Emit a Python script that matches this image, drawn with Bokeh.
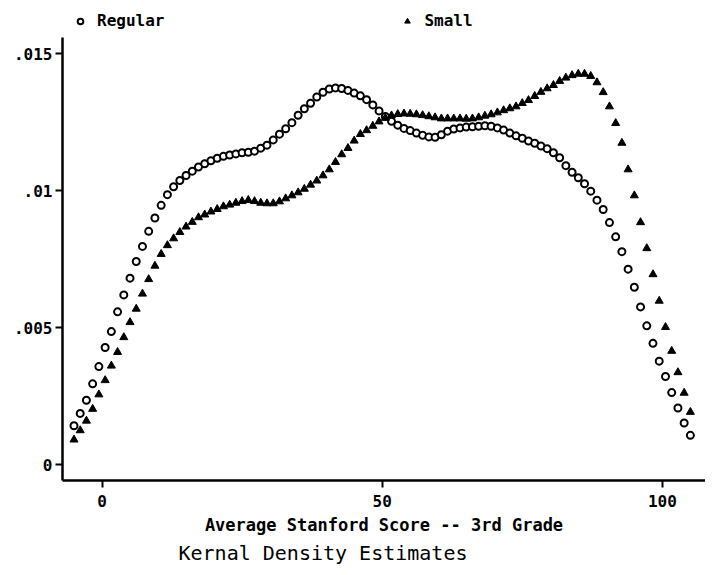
from bokeh.plotting import figure
from bokeh.models import Range1d, FixedTicker, Legend, LegendItem, Title
from bokeh.embed import file_html
from bokeh.resources import INLINE

# Evaluation grid (Average Stanford Score)
score = [-5.0, -3.89, -2.78, -1.67, -0.56, 0.56, 1.67, 2.78, 3.89, 5.0,
         6.11, 7.22, 8.33, 9.44, 10.56, 11.67, 12.78, 13.89, 15.0, 16.11,
         17.22, 18.33, 19.44, 20.56, 21.67, 22.78, 23.89, 25.0, 26.11, 27.22,
         28.33, 29.44, 30.56, 31.67, 32.78, 33.89, 35.0, 36.11, 37.22, 38.33,
         39.44, 40.56, 41.67, 42.78, 43.89, 45.0, 46.11, 47.22, 48.33, 49.44,
         50.56, 51.67, 52.78, 53.89, 55.0, 56.11, 57.22, 58.33, 59.44, 60.56,
         61.67, 62.78, 63.89, 65.0, 66.11, 67.22, 68.33, 69.44, 70.56, 71.67,
         72.78, 73.89, 75.0, 76.11, 77.22, 78.33, 79.44, 80.56, 81.67, 82.78,
         83.89, 85.0, 86.11, 87.22, 88.33, 89.44, 90.56, 91.67, 92.78, 93.89,
         95.0, 96.11, 97.22, 98.33, 99.44, 100.56, 101.67, 102.78, 103.89, 105.0]

# Kernel density, regular-size classes
regular = [.00142, .00187, .00235, .00295, .00358, .00428, .00486, .00558, .00620, .00681,
           .00742, .00797, .00852, .00901, .00947, .00986, .01015, .01038, .01056, .01072,
           .01087, .01099, .01110, .01119, .01126, .01131, .01135, .01139, .01141, .01145,
           .01156, .01167, .01186, .01207, .01227, .01249, .01276, .01300, .01320, .01343,
           .01360, .01372, .01376, .01374, .01367, .01357, .01347, .01333, .01314, .01292,
           .01272, .01254, .01240, .01228, .01220, .01211, .01203, .01197, .01196, .01205,
           .01218, .01226, .01230, .01233, .01234, .01236, .01238, .01236, .01230, .01222,
           .01211, .01201, .01192, .01182, .01174, .01164, .01154, .01139, .01121, .01092,
           .01068, .01048, .01026, .00999, .00966, .00932, .00884, .00832, .00778, .00714,
           .00648, .00576, .00507, .00443, .00378, .00322, .00263, .00207, .00152, .00107]

# Kernel density, small classes
small = [.00091, .00125, .00160, .00203, .00256, .00308, .00361, .00411, .00465, .00520,
         .00569, .00624, .00677, .00726, .00769, .00801, .00826, .00849, .00869, .00886,
         .00903, .00913, .00924, .00933, .00943, .00949, .00956, .00962, .00966, .00962,
         .00956, .00954, .00954, .00961, .00972, .00983, .00994, .01007, .01022, .01037,
         .01056, .01078, .01105, .01133, .01156, .01183, .01207, .01221, .01237, .01253,
         .01266, .01275, .01280, .01282, .01281, .01279, .01276, .01272, .01268, .01264,
         .01264, .01264, .01264, .01263, .01264, .01268, .01274, .01279, .01286, .01294,
         .01301, .01308, .01320, .01331, .01346, .01361, .01374, .01386, .01401, .01413,
         .01422, .01427, .01427, .01419, .01396, .01360, .01308, .01247, .01175, .01078,
         .00983, .00885, .00790, .00695, .00598, .00502, .00415, .00337, .00262, .00192]

y_ticks = [0, 0.005, 0.01, 0.015]
y_tick_labels = ["0", ".005", ".01", ".015"]
x_ticks = [0, 50, 100]
y_axis_span = (-0.00058, 0.0156)

FONT = "DejaVu Sans Mono"

p = figure(width=705, height=567, output_backend="svg", toolbar_location=None,
           x_range=Range1d(-7.05, 107.7), y_range=Range1d(-0.00058, 0.01688),
           min_border_left=62, min_border_right=0, min_border_top=2, min_border_bottom=87)
p.grid.visible = False
p.outline_line_color = None
p.background_fill_color = "white"

for ax in (p.xaxis[0], p.yaxis[0]):
    ax.axis_line_width = 2.5
    ax.axis_line_color = "black"
    ax.major_tick_line_width = 2
    ax.major_tick_line_color = "black"
    ax.major_tick_out = 7
    ax.major_tick_in = 0
    ax.minor_tick_out = 0
    ax.minor_tick_in = 0
    ax.major_label_text_font = FONT
    ax.major_label_text_font_size = "16px"
    ax.major_label_text_font_style = "bold"
    ax.major_label_text_color = "black"

p.yaxis.bounds = y_axis_span
p.yaxis.ticker = FixedTicker(ticks=y_ticks)
p.yaxis.major_label_overrides = {t: s for t, s in zip(y_ticks, y_tick_labels)}
p.yaxis.major_label_standoff = 3
p.xaxis.ticker = FixedTicker(ticks=x_ticks)
p.xaxis.major_label_standoff = 7
p.xaxis.axis_label = "Average Stanford Score -- 3rd Grade"
p.xaxis.axis_label_text_font = FONT
p.xaxis.axis_label_text_font_size = "17px"
p.xaxis.axis_label_text_font_style = "bold"
p.xaxis.axis_label_text_color = "black"
p.xaxis.axis_label_standoff = 5

r1 = p.scatter(score, regular, marker="circle", size=7, line_color="black",
               line_width=2, fill_color="white")
r2 = p.scatter(score, small, marker="triangle", size=8, line_color="black",
               fill_color="black")

legend = Legend(items=[LegendItem(label="Regular", renderers=[r1]),
                       LegendItem(label="Small", renderers=[r2])],
                orientation="horizontal", location=(11, 450), spacing=236,
                padding=0, margin=0, glyph_width=14, glyph_height=14,
                label_standoff=10, label_text_font=FONT, label_text_font_size="16px",
                label_text_font_style="bold", label_text_color="black",
                border_line_alpha=0, background_fill_alpha=0)
p.add_layout(legend)

t = Title(text="Kernal Density Estimates", align="left", offset=116, standoff=2,
          text_font=FONT, text_font_size="20px", text_font_style="normal",
          text_color="black")
p.add_layout(t, "below")

open("out.html", "w").write(file_html(p, INLINE))
